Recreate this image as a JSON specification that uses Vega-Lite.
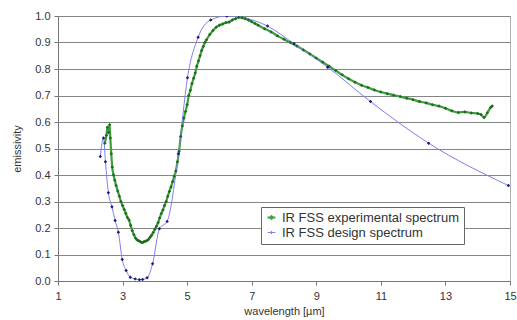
{
  "$schema": "https://vega.github.io/schema/vega-lite/v6.json",
  "autosize": "none",
  "width": 452,
  "height": 265,
  "padding": {"left": 58, "top": 16, "right": 7, "bottom": 39},
  "background": "white",
  "config": {
    "view": {"stroke": "#b0b0b0", "strokeWidth": 1},
    "font": "Liberation Sans",
    "axis": {
      "labelFont": "Liberation Sans",
      "titleFont": "Liberation Sans",
      "labelFontSize": 11,
      "titleFontSize": 11,
      "titleFontWeight": "normal",
      "labelColor": "#333",
      "titleColor": "#333",
      "domainColor": "#777",
      "tickColor": "#777",
      "tickSize": 4,
      "gridColor": "#858585",
      "gridWidth": 1
    },
    "legend": {
      "labelFont": "Liberation Sans",
      "labelFontSize": 13,
      "labelColor": "#333",
      "labelLimit": 0,
      "strokeColor": "#666",
      "fillColor": "white",
      "padding": 4,
      "rowPadding": 1,
      "symbolSize": 60,
      "symbolStrokeWidth": 1.5
    }
  },
  "data": {
    "values": [
      {"series": "IR FSS experimental spectrum", "x": 2.45, "y": 0.52},
      {"series": "IR FSS experimental spectrum", "x": 2.5, "y": 0.55},
      {"series": "IR FSS experimental spectrum", "x": 2.53, "y": 0.58},
      {"series": "IR FSS experimental spectrum", "x": 2.57, "y": 0.56},
      {"series": "IR FSS experimental spectrum", "x": 2.6, "y": 0.59},
      {"series": "IR FSS experimental spectrum", "x": 2.62, "y": 0.54},
      {"series": "IR FSS experimental spectrum", "x": 2.65, "y": 0.48},
      {"series": "IR FSS experimental spectrum", "x": 2.68, "y": 0.43},
      {"series": "IR FSS experimental spectrum", "x": 2.72, "y": 0.4},
      {"series": "IR FSS experimental spectrum", "x": 2.76, "y": 0.38},
      {"series": "IR FSS experimental spectrum", "x": 2.8, "y": 0.36},
      {"series": "IR FSS experimental spectrum", "x": 2.85, "y": 0.34},
      {"series": "IR FSS experimental spectrum", "x": 2.9, "y": 0.32},
      {"series": "IR FSS experimental spectrum", "x": 2.95, "y": 0.3},
      {"series": "IR FSS experimental spectrum", "x": 3.0, "y": 0.285},
      {"series": "IR FSS experimental spectrum", "x": 3.05, "y": 0.27},
      {"series": "IR FSS experimental spectrum", "x": 3.1, "y": 0.255},
      {"series": "IR FSS experimental spectrum", "x": 3.15, "y": 0.24},
      {"series": "IR FSS experimental spectrum", "x": 3.2, "y": 0.23},
      {"series": "IR FSS experimental spectrum", "x": 3.25, "y": 0.21},
      {"series": "IR FSS experimental spectrum", "x": 3.3, "y": 0.19},
      {"series": "IR FSS experimental spectrum", "x": 3.35, "y": 0.175},
      {"series": "IR FSS experimental spectrum", "x": 3.4, "y": 0.162},
      {"series": "IR FSS experimental spectrum", "x": 3.45, "y": 0.155},
      {"series": "IR FSS experimental spectrum", "x": 3.5, "y": 0.152},
      {"series": "IR FSS experimental spectrum", "x": 3.55, "y": 0.148},
      {"series": "IR FSS experimental spectrum", "x": 3.6, "y": 0.145},
      {"series": "IR FSS experimental spectrum", "x": 3.65, "y": 0.147},
      {"series": "IR FSS experimental spectrum", "x": 3.7, "y": 0.15},
      {"series": "IR FSS experimental spectrum", "x": 3.75, "y": 0.152},
      {"series": "IR FSS experimental spectrum", "x": 3.8, "y": 0.157},
      {"series": "IR FSS experimental spectrum", "x": 3.85, "y": 0.165},
      {"series": "IR FSS experimental spectrum", "x": 3.9, "y": 0.173},
      {"series": "IR FSS experimental spectrum", "x": 3.95, "y": 0.183},
      {"series": "IR FSS experimental spectrum", "x": 4.0, "y": 0.195},
      {"series": "IR FSS experimental spectrum", "x": 4.05, "y": 0.207},
      {"series": "IR FSS experimental spectrum", "x": 4.1, "y": 0.22},
      {"series": "IR FSS experimental spectrum", "x": 4.15, "y": 0.238},
      {"series": "IR FSS experimental spectrum", "x": 4.2, "y": 0.255},
      {"series": "IR FSS experimental spectrum", "x": 4.25, "y": 0.268},
      {"series": "IR FSS experimental spectrum", "x": 4.3, "y": 0.285},
      {"series": "IR FSS experimental spectrum", "x": 4.35, "y": 0.3},
      {"series": "IR FSS experimental spectrum", "x": 4.4, "y": 0.32},
      {"series": "IR FSS experimental spectrum", "x": 4.45, "y": 0.338},
      {"series": "IR FSS experimental spectrum", "x": 4.5, "y": 0.355},
      {"series": "IR FSS experimental spectrum", "x": 4.55, "y": 0.375},
      {"series": "IR FSS experimental spectrum", "x": 4.6, "y": 0.395},
      {"series": "IR FSS experimental spectrum", "x": 4.65, "y": 0.415},
      {"series": "IR FSS experimental spectrum", "x": 4.7, "y": 0.45},
      {"series": "IR FSS experimental spectrum", "x": 4.75, "y": 0.49},
      {"series": "IR FSS experimental spectrum", "x": 4.8, "y": 0.545},
      {"series": "IR FSS experimental spectrum", "x": 4.85, "y": 0.585},
      {"series": "IR FSS experimental spectrum", "x": 4.9, "y": 0.615},
      {"series": "IR FSS experimental spectrum", "x": 4.95, "y": 0.64},
      {"series": "IR FSS experimental spectrum", "x": 5.0, "y": 0.665},
      {"series": "IR FSS experimental spectrum", "x": 5.05, "y": 0.7},
      {"series": "IR FSS experimental spectrum", "x": 5.1, "y": 0.72},
      {"series": "IR FSS experimental spectrum", "x": 5.15, "y": 0.745},
      {"series": "IR FSS experimental spectrum", "x": 5.2, "y": 0.765},
      {"series": "IR FSS experimental spectrum", "x": 5.25, "y": 0.785},
      {"series": "IR FSS experimental spectrum", "x": 5.3, "y": 0.81},
      {"series": "IR FSS experimental spectrum", "x": 5.35, "y": 0.83},
      {"series": "IR FSS experimental spectrum", "x": 5.4, "y": 0.85},
      {"series": "IR FSS experimental spectrum", "x": 5.45, "y": 0.87},
      {"series": "IR FSS experimental spectrum", "x": 5.5, "y": 0.885},
      {"series": "IR FSS experimental spectrum", "x": 5.55, "y": 0.9},
      {"series": "IR FSS experimental spectrum", "x": 5.6, "y": 0.91},
      {"series": "IR FSS experimental spectrum", "x": 5.7, "y": 0.93},
      {"series": "IR FSS experimental spectrum", "x": 5.8, "y": 0.945},
      {"series": "IR FSS experimental spectrum", "x": 5.9, "y": 0.958},
      {"series": "IR FSS experimental spectrum", "x": 6.0, "y": 0.965},
      {"series": "IR FSS experimental spectrum", "x": 6.1, "y": 0.97},
      {"series": "IR FSS experimental spectrum", "x": 6.2, "y": 0.975},
      {"series": "IR FSS experimental spectrum", "x": 6.3, "y": 0.977},
      {"series": "IR FSS experimental spectrum", "x": 6.4, "y": 0.985},
      {"series": "IR FSS experimental spectrum", "x": 6.5, "y": 0.99},
      {"series": "IR FSS experimental spectrum", "x": 6.6, "y": 0.995},
      {"series": "IR FSS experimental spectrum", "x": 6.7, "y": 0.993},
      {"series": "IR FSS experimental spectrum", "x": 6.8, "y": 0.99},
      {"series": "IR FSS experimental spectrum", "x": 6.9, "y": 0.985},
      {"series": "IR FSS experimental spectrum", "x": 7.0, "y": 0.978},
      {"series": "IR FSS experimental spectrum", "x": 7.1, "y": 0.972},
      {"series": "IR FSS experimental spectrum", "x": 7.2, "y": 0.965},
      {"series": "IR FSS experimental spectrum", "x": 7.4, "y": 0.952},
      {"series": "IR FSS experimental spectrum", "x": 7.6, "y": 0.94},
      {"series": "IR FSS experimental spectrum", "x": 7.8, "y": 0.925},
      {"series": "IR FSS experimental spectrum", "x": 8.0, "y": 0.912},
      {"series": "IR FSS experimental spectrum", "x": 8.2, "y": 0.9},
      {"series": "IR FSS experimental spectrum", "x": 8.4, "y": 0.887},
      {"series": "IR FSS experimental spectrum", "x": 8.6, "y": 0.872},
      {"series": "IR FSS experimental spectrum", "x": 8.8, "y": 0.857},
      {"series": "IR FSS experimental spectrum", "x": 9.0, "y": 0.841},
      {"series": "IR FSS experimental spectrum", "x": 9.2, "y": 0.826},
      {"series": "IR FSS experimental spectrum", "x": 9.4, "y": 0.81},
      {"series": "IR FSS experimental spectrum", "x": 9.6, "y": 0.794},
      {"series": "IR FSS experimental spectrum", "x": 9.8, "y": 0.778},
      {"series": "IR FSS experimental spectrum", "x": 10.0, "y": 0.763},
      {"series": "IR FSS experimental spectrum", "x": 10.2, "y": 0.75},
      {"series": "IR FSS experimental spectrum", "x": 10.4, "y": 0.739},
      {"series": "IR FSS experimental spectrum", "x": 10.6, "y": 0.73},
      {"series": "IR FSS experimental spectrum", "x": 10.8, "y": 0.721},
      {"series": "IR FSS experimental spectrum", "x": 11.0, "y": 0.713},
      {"series": "IR FSS experimental spectrum", "x": 11.2, "y": 0.707},
      {"series": "IR FSS experimental spectrum", "x": 11.4, "y": 0.701},
      {"series": "IR FSS experimental spectrum", "x": 11.6, "y": 0.696},
      {"series": "IR FSS experimental spectrum", "x": 11.8, "y": 0.69},
      {"series": "IR FSS experimental spectrum", "x": 12.0, "y": 0.684},
      {"series": "IR FSS experimental spectrum", "x": 12.2, "y": 0.677},
      {"series": "IR FSS experimental spectrum", "x": 12.4, "y": 0.672},
      {"series": "IR FSS experimental spectrum", "x": 12.6, "y": 0.665},
      {"series": "IR FSS experimental spectrum", "x": 12.8, "y": 0.66},
      {"series": "IR FSS experimental spectrum", "x": 13.0, "y": 0.652},
      {"series": "IR FSS experimental spectrum", "x": 13.2, "y": 0.642},
      {"series": "IR FSS experimental spectrum", "x": 13.4, "y": 0.636},
      {"series": "IR FSS experimental spectrum", "x": 13.6, "y": 0.638},
      {"series": "IR FSS experimental spectrum", "x": 13.8, "y": 0.634},
      {"series": "IR FSS experimental spectrum", "x": 14.0, "y": 0.632},
      {"series": "IR FSS experimental spectrum", "x": 14.1, "y": 0.628},
      {"series": "IR FSS experimental spectrum", "x": 14.2, "y": 0.617},
      {"series": "IR FSS experimental spectrum", "x": 14.3, "y": 0.635},
      {"series": "IR FSS experimental spectrum", "x": 14.4, "y": 0.655},
      {"series": "IR FSS experimental spectrum", "x": 14.45, "y": 0.66},
      {"series": "IR FSS design spectrum", "x": 2.31, "y": 0.47},
      {"series": "IR FSS design spectrum", "x": 2.41, "y": 0.54},
      {"series": "IR FSS design spectrum", "x": 2.47, "y": 0.45},
      {"series": "IR FSS design spectrum", "x": 2.56, "y": 0.333},
      {"series": "IR FSS design spectrum", "x": 2.67, "y": 0.28},
      {"series": "IR FSS design spectrum", "x": 2.77, "y": 0.228},
      {"series": "IR FSS design spectrum", "x": 2.87, "y": 0.184},
      {"series": "IR FSS design spectrum", "x": 2.99, "y": 0.081},
      {"series": "IR FSS design spectrum", "x": 3.11, "y": 0.04},
      {"series": "IR FSS design spectrum", "x": 3.24, "y": 0.014},
      {"series": "IR FSS design spectrum", "x": 3.39, "y": 0.008},
      {"series": "IR FSS design spectrum", "x": 3.52, "y": 0.005},
      {"series": "IR FSS design spectrum", "x": 3.62, "y": 0.006},
      {"series": "IR FSS design spectrum", "x": 3.76, "y": 0.012},
      {"series": "IR FSS design spectrum", "x": 3.93, "y": 0.065},
      {"series": "IR FSS design spectrum", "x": 4.14, "y": 0.197},
      {"series": "IR FSS design spectrum", "x": 4.38, "y": 0.225},
      {"series": "IR FSS design spectrum", "x": 4.73, "y": 0.48},
      {"series": "IR FSS design spectrum", "x": 5.01, "y": 0.767},
      {"series": "IR FSS design spectrum", "x": 5.34, "y": 0.92},
      {"series": "IR FSS design spectrum", "x": 5.73, "y": 0.985},
      {"series": "IR FSS design spectrum", "x": 6.23, "y": 1.0},
      {"series": "IR FSS design spectrum", "x": 7.49, "y": 0.962},
      {"series": "IR FSS design spectrum", "x": 8.31, "y": 0.895},
      {"series": "IR FSS design spectrum", "x": 9.35, "y": 0.807},
      {"series": "IR FSS design spectrum", "x": 10.68, "y": 0.677},
      {"series": "IR FSS design spectrum", "x": 12.48, "y": 0.52},
      {"series": "IR FSS design spectrum", "x": 14.95, "y": 0.36}
    ]
  },
  "encoding": {
    "x": {
      "field": "x",
      "type": "quantitative",
      "scale": {"domain": [1, 15], "nice": false, "zero": false},
      "axis": {
        "title": "wavelength [µm]",
        "values": [1, 3, 5, 7, 9, 11, 13, 15],
        "grid": false,
        "labelPadding": 5,
        "titlePadding": 4,
        "labelFlush": false
      }
    },
    "y": {
      "field": "y",
      "type": "quantitative",
      "scale": {"domain": [0, 1], "nice": false},
      "axis": {
        "title": "emissivity",
        "values": [0, 0.1, 0.2, 0.3, 0.4, 0.5, 0.6, 0.7, 0.8, 0.9, 1.0],
        "format": ".1f",
        "grid": true,
        "labelPadding": 4,
        "titlePadding": 12
      }
    }
  },
  "layer": [
    {
      "mark": {"type": "line", "interpolate": "monotone", "clip": true},
      "encoding": {
        "color": {
          "field": "series",
          "type": "nominal",
          "scale": {
            "domain": ["IR FSS experimental spectrum", "IR FSS design spectrum"],
            "range": ["#3d9f3d", "#7f7ff0"]
          },
          "legend": {
            "title": null,
            "orient": "none",
            "legendX": 203,
            "legendY": 191,
            "symbolType": "M-1,0L1,0M0,-0.3L0.3,0L0,0.3L-0.3,0Z"
          }
        },
        "strokeWidth": {
          "field": "series",
          "type": "nominal",
          "scale": {
            "domain": ["IR FSS experimental spectrum", "IR FSS design spectrum"],
            "range": [2.2, 1]
          },
          "legend": null
        }
      }
    },
    {
      "mark": {"type": "point", "shape": "diamond", "filled": true, "size": 12, "opacity": 1, "clip": true},
      "encoding": {
        "fill": {
          "field": "series",
          "type": "nominal",
          "scale": {
            "domain": ["IR FSS experimental spectrum", "IR FSS design spectrum"],
            "range": ["#1f6b1f", "#1c1c7a"]
          },
          "legend": null
        }
      }
    }
  ]
}
